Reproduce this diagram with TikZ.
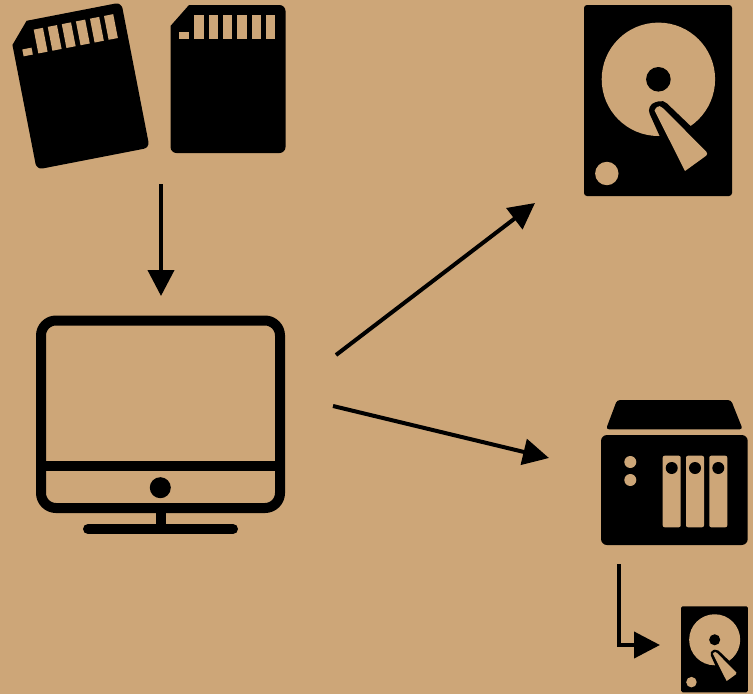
\documentclass[tikz,border=0pt]{standalone}
\usetikzlibrary{arrows.meta}
\definecolor{tan}{HTML}{CDA678}
\tikzset{
  conn/.style={draw=black,line width=4pt,-{Triangle[length=26pt,width=26pt]}},
  cut/.style={fill=tan,draw=none},
  ink/.style={fill=black,draw=none},
  mon/.style={draw=black,line width=10pt,fill=none}
}
\newcommand{\sdcard}{%
  \path[ink] (-57.5,-53) -- (-39,-74) -- (51.5,-74) arc[start angle=-90,end angle=0,radius=6] -- (57.5,68) arc[start angle=0,end angle=90,radius=6] -- (-51.5,74) arc[start angle=90,end angle=180,radius=6] -- cycle;
  \foreach \cx in {-29,-14.7,-0.4,14,28.3,42.6}{
    \path[cut] (\cx-4.7,-64) rectangle (\cx+4.7,-39.7);
  }
  \path[cut] (-48.7,-46.7) rectangle (-39.3,-39.7);
}
\newcommand{\hddicon}[3]{%
  \begin{scope}[shift={(#1,#2)},scale=#3]
    \path[ink,rounded corners=#3*3pt] (-74,-95.5) rectangle (74,95.5);
    \path[cut] (0.4,-21.2) circle[radius=56.7];
    \path[ink] (0.4,-21.2) circle[radius=12.3];
    \path[cut] (-51.2,73) circle[radius=11.7];
    \draw[black,fill=black,line width=#3*17pt,line join=round] (-0.5,10) -- (3,9) -- (49,53) -- (26,69) -- cycle;
    \path[cut,rounded corners=#3*3pt] (-3.5,10) -- (-0.5,5) -- (4,6.5) -- (50.5,53.5) [sharp corners] -- (27,70.5) -- cycle;
  \end{scope}
}
\begin{document}
\begin{tikzpicture}[x=1pt,y=-1pt]
  \useasboundingbox (0,0) rectangle (753,694);
  \path[fill=tan] (0,0) rectangle (753,694);

  % SD cards
  \begin{scope}[shift={(79,86)},rotate=11]\sdcard\end{scope}
  \begin{scope}[shift={(228,79)}]\sdcard\end{scope}

  % Monitor
  \draw[mon,rounded corners=15pt] (41,320.5) rectangle (280,508);
  \draw[mon] (41,466) -- (280,466);
  \path[ink] (160.3,487.7) circle[radius=10.5];
  \draw[mon] (160.5,508) -- (160.5,529);
  \draw[mon,line cap=round] (88,529) -- (233,529);

  % Hard disks
  \hddicon{658}{100.5}{1}
  \hddicon{714.5}{649.3}{0.45}

  % NAS
  \path[ink,rounded corners=3pt] (606,429.3) -- (617,400) -- (731,400) -- (742.7,429.3) -- cycle;
  \path[ink,rounded corners=6pt] (601,435) rectangle (747.7,545);
  \path[cut] (630.3,462) circle[radius=6];
  \path[cut] (630.3,480) circle[radius=6];
  \foreach \bx in {671.7,695,718.3}{
    \path[cut,rounded corners=2pt] (\bx-9,455.7) rectangle (\bx+9,527.3);
    \path[ink] (\bx,468) circle[radius=6];
  }

  % Connector ends
  \coordinate (sdOut) at (161,184);
  \coordinate (monIn) at (161,296);
  \coordinate (monOutA) at (336,355);
  \coordinate (hddIn) at (535,203);
  \coordinate (monOutB) at (333,406);
  \coordinate (nasIn) at (549,458);
  \coordinate (nasOut) at (618.5,564);
  \coordinate (smallIn) at (660,645);

  \draw[conn] (sdOut) -- (monIn);
  \draw[conn] (monOutA) -- (hddIn);
  \draw[conn] (monOutB) -- (nasIn);
  \draw[conn] (nasOut) |- (smallIn);
\end{tikzpicture}
\end{document}
